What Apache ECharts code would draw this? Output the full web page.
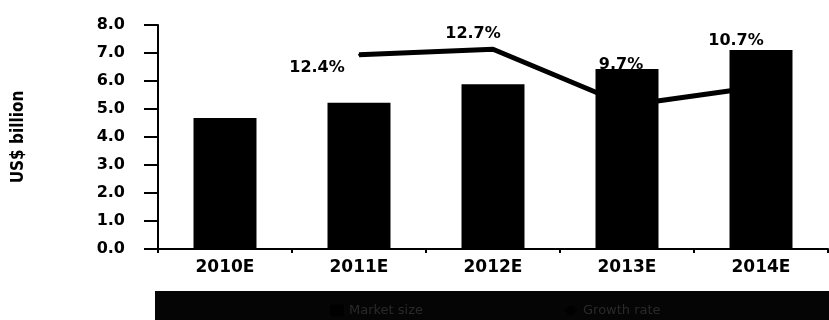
<!DOCTYPE html>
<html>
<head>
<meta charset="utf-8">
<title>Market size</title>
<script src="https://cdn.jsdelivr.net/npm/echarts@6/dist/echarts.min.js"></script>
<style>
  html, body { margin: 0; padding: 0; background: #fff; }
  #chart { width: 829px; height: 320px; }
</style>
</head>
<body>
<div id="chart"></div>
<script>
// Years on the category axis
const categories = ['2010E', '2011E', '2012E', '2013E', '2014E'];
// Market size, US$ billion (bars)
const marketSize = [4.68, 5.22, 5.88, 6.43, 7.11];
// Year-on-year growth, % (line); no growth figure for the first year
const growth = [null, 12.4, 12.7, 9.7, 10.7];
// Value-axis tick labels
const yTicks = ['0.0', '1.0', '2.0', '3.0', '4.0', '5.0', '6.0', '7.0', '8.0'];
// Legend entries
const seriesNames = ['Market size', 'Growth rate'];

// Where each growth label sits relative to its point
const growthLabelShift = [null, [-42, 13], [-20, -15], [-6, -40], [-25, -46]];

const boldFont = "'DejaVu Sans', sans-serif";

const chart = echarts.init(document.getElementById('chart'), null, { renderer: 'canvas' });

chart.setOption({
  animation: false,
  backgroundColor: '#fff',
  grid: { left: 158, right: 1, top: 25, bottom: 71 },
  legend: {
    data: seriesNames,
    left: 325,
    top: 299,
    itemGap: 140,
    itemWidth: 14,
    itemHeight: 12,
    textStyle: { color: '#2a2a2a', fontSize: 13, fontFamily: boldFont },
    z: 10
  },
  graphic: [{
    type: 'rect',
    left: 155,
    bottom: 0,
    z: 0,
    shape: { width: 674, height: 29 },
    style: { fill: '#050505' }
  }],
  xAxis: {
    type: 'category',
    data: categories,
    boundaryGap: true,
    axisLine: { lineStyle: { color: '#000', width: 2 } },
    axisTick: { show: true, length: 4, inside: false, lineStyle: { color: '#000', width: 2 } },
    axisLabel: {
      color: '#000', fontSize: 17, fontWeight: 'bold', fontFamily: boldFont, margin: 10
    }
  },
  yAxis: [{
    type: 'value',
    min: 0,
    max: 8,
    interval: 1,
    name: 'US$ billion',
    nameLocation: 'middle',
    nameRotate: 90,
    nameGap: 131,
    nameTextStyle: {
      color: '#000', fontSize: 17, fontWeight: 'bold',
      fontFamily: "'Liberation Sans Narrow', 'DejaVu Sans Condensed', sans-serif"
    },
    axisLine: { show: true, lineStyle: { color: '#000', width: 2 } },
    axisTick: { show: true, length: 14, inside: false, lineStyle: { color: '#000', width: 2 } },
    splitLine: { show: false },
    axisLabel: {
      color: '#000', fontSize: 16, fontWeight: 'bold', fontFamily: boldFont, margin: 33,
      formatter: (v) => yTicks[Math.round(v)]
    }
  }, {
    type: 'value',
    min: 2,
    max: 14,
    show: false,
    splitLine: { show: false }
  }],
  series: [{
    name: seriesNames[0],
    type: 'bar',
    data: marketSize,
    barWidth: '47%',
    itemStyle: { color: '#000' },
    z: 2
  }, {
    name: seriesNames[1],
    type: 'line',
    yAxisIndex: 1,
    data: growth.map((v, i) => v == null ? null : {
      value: v,
      label: {
        show: true,
        position: [1 + growthLabelShift[i][0], 1 + growthLabelShift[i][1]],
        align: 'center',
        verticalAlign: 'middle'
      }
    }),
    symbol: 'circle',
    symbolSize: 2,
    showSymbol: true,
    connectNulls: false,
    lineStyle: { color: '#000', width: 5 },
    itemStyle: { color: '#000' },
    label: {
      show: true,
      color: '#000',
      fontSize: 16,
      fontWeight: 'bold',
      fontFamily: boldFont,
      formatter: (p) => p.value.toFixed(1) + '%'
    },
    labelLayout: { hideOverlap: false },
    z: 3
  }]
});
</script>
</body>
</html>
